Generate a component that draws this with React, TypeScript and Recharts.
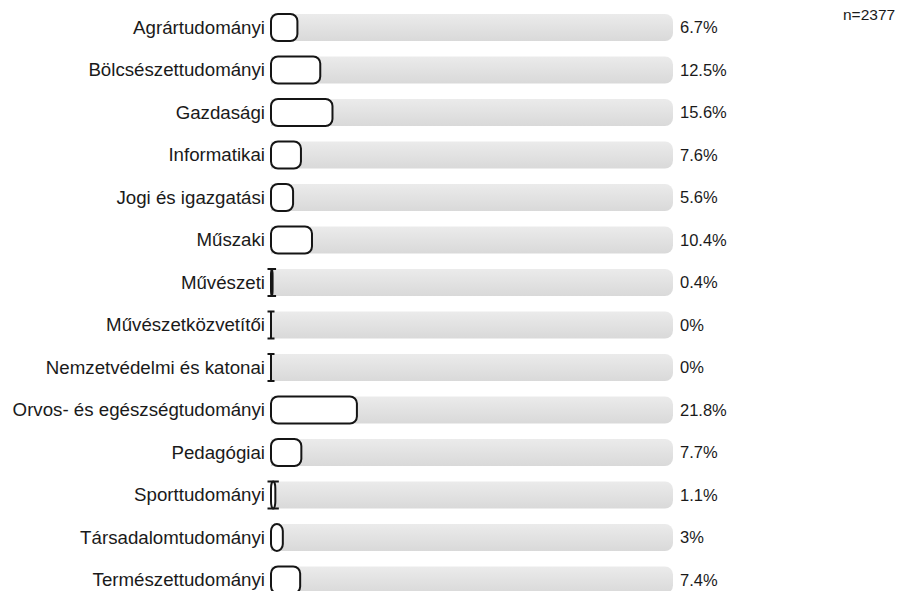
import React from 'react';
import { BarChart, Bar, XAxis, YAxis } from 'recharts';

const categories = [
  'Agrártudományi',
  'Bölcsészettudományi',
  'Gazdasági',
  'Informatikai',
  'Jogi és igazgatási',
  'Műszaki',
  'Művészeti',
  'Művészetközvetítői',
  'Nemzetvédelmi és katonai',
  'Orvos- és egészségtudományi',
  'Pedagógiai',
  'Sporttudományi',
  'Társadalomtudományi',
  'Természettudományi',
];

const shares = [6.7, 12.5, 15.6, 7.6, 5.6, 10.4, 0.4, 0, 0, 21.8, 7.7, 1.1, 3, 7.4];

const sampleSize = 2377;

const data = categories.map((name, i) => ({ name, value: shares[i] }));

const FONT = '"Liberation Sans", Arial, Helvetica, sans-serif';

const OutlinedBar = (props: any) => {
  const { x, y, width, height } = props;
  const w = Math.max(0, width || 0);
  const r = Math.min(7, height / 2);
  const rx = Math.min(r, w / 2);
  const d = [
    `M ${x + rx},${y}`,
    `H ${x + w - rx}`,
    `A ${rx} ${r} 0 0 1 ${x + w},${y + r}`,
    `V ${y + height - r}`,
    `A ${rx} ${r} 0 0 1 ${x + w - rx},${y + height}`,
    `H ${x + rx}`,
    `A ${rx} ${r} 0 0 1 ${x},${y + height - r}`,
    `V ${y + r}`,
    `A ${rx} ${r} 0 0 1 ${x + rx},${y}`,
    'Z',
  ].join(' ');
  const tiny = w < 6;
  return (
    <g>
      <path d={d} fill="#fff" stroke="#151515" strokeWidth={2} />
      {tiny && (
        <path
          d={`M ${x - 3.5},${y} H ${x + w + 3.5} M ${x - 3.5},${y + height} H ${x + w + 3.5}`}
          stroke="#151515"
          strokeWidth={2}
          fill="none"
        />
      )}
    </g>
  );
};

export default function App() {
  return (
    <div style={{ position: 'absolute', left: 0, top: 0, width: 899, height: 610, fontFamily: FONT }}>
      <BarChart
        width={899}
        height={610}
        data={data}
        layout="vertical"
        margin={{ top: 6, right: 0, bottom: 9, left: 0 }}
        barSize={27}
      >
        <defs>
          <linearGradient id="track" x1="0" y1="0" x2="0" y2="1">
            <stop offset="0%" stopColor="#ebebeb" />
            <stop offset="100%" stopColor="#d9d9d9" />
          </linearGradient>
        </defs>
        <XAxis type="number" domain={[0, 102]} hide />
        <YAxis
          yAxisId="left"
          type="category"
          dataKey="name"
          width={271}
          axisLine={false}
          tickLine={false}
          tickSize={0}
          tickMargin={6}
          interval={0}
          tick={{ fill: '#1a1a1a', fontSize: 18.7, fontFamily: FONT }}
        />
        <YAxis
          yAxisId="right"
          orientation="right"
          type="category"
          dataKey="name"
          width={226}
          axisLine={false}
          tickLine={false}
          tickSize={0}
          tickMargin={7}
          interval={0}
          tickFormatter={(name: string) => {
            const v = shares[categories.indexOf(name)];
            return `${v}%`;
          }}
          tick={{ fill: '#1a1a1a', fontSize: 16.5, fontFamily: FONT }}
        />
        <Bar
          yAxisId="left"
          dataKey="value"
          isAnimationActive={false}
          background={{ fill: 'url(#track)', radius: [0, 8, 8, 0] } as any}
          shape={OutlinedBar}
        />
      </BarChart>
      <div
        style={{
          position: 'absolute',
          left: 843,
          top: 6,
          fontSize: 15.5,
          color: '#1a1a1a',
          fontFamily: FONT,
        }}
      >
        n={sampleSize}
      </div>
    </div>
  );
}
